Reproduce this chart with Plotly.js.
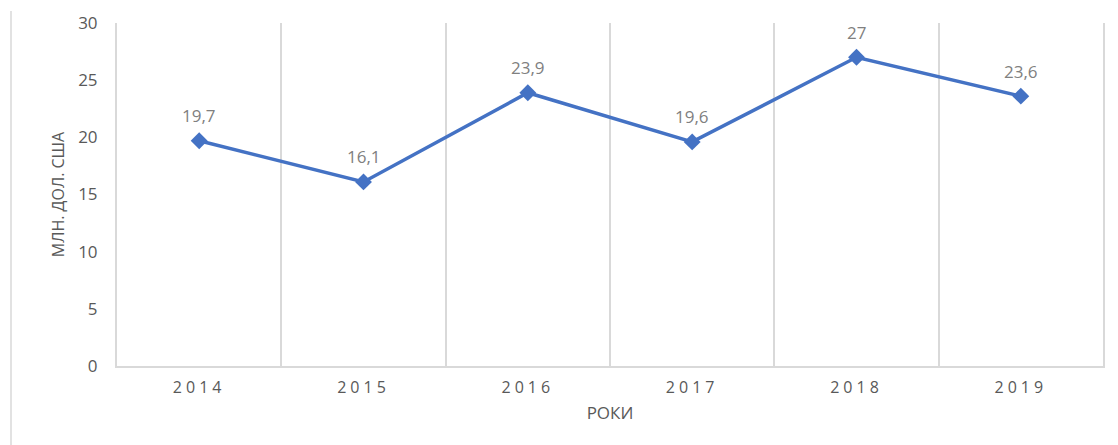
<!DOCTYPE html>
<html>
<head>
<meta charset="utf-8">
<script src="https://cdn.plot.ly/plotly-3.0.1.min.js"></script>
<style>
html,body{margin:0;padding:0;background:#fff;}
#chart{width:1118px;height:445px;}
.xtick text{letter-spacing:4px;}
</style>
</head>
<body>
<div id="chart"></div>
<script>
var years = ["2014", "2015", "2016", "2017", "2018", "2019"];
var values = [19.7, 16.1, 23.9, 19.6, 27, 23.6];
var yTicks = [0, 5, 10, 15, 20, 25, 30];
var yTitle = "МЛН. ДОЛ. США";
var xTitle = "РОКИ";

var fam = "Open Sans, Noto Sans, sans-serif";
var labels = values.map(function (v) { return String(v).replace(".", ","); });

var trace = {
  x: years,
  y: values,
  type: "scatter",
  mode: "lines+markers",
  line: {color: "#4472C4", width: 3.5},
  marker: {symbol: "diamond", size: 13, color: "#4472C4"},
  hoverinfo: "skip",
  cliponaxis: false
};

var annotations = [];
for (var i = 0; i < years.length; i++) {
  annotations.push({
    x: i, y: values[i], xref: "x", yref: "y",
    text: labels[i],
    showarrow: false, yshift: 25,
    xanchor: "center", yanchor: "middle",
    font: {family: fam, size: 17, color: "#808080"}
  });
}

var layout = {
  width: 1118, height: 445,
  margin: {l: 117, r: 15, t: 23, b: 79},
  paper_bgcolor: "#fff", plot_bgcolor: "#fff",
  showlegend: false,
  xaxis: {
    type: "category",
    tickson: "boundaries",
    showgrid: true, gridcolor: "#d9d9d9", gridwidth: 2,
    showline: true, linecolor: "#d9d9d9", linewidth: 2,
    ticks: "", ticklabelstandoff: 6,
    tickfont: {family: fam, size: 16, color: "#595959"},
    title: {text: xTitle, font: {family: fam, size: 17, color: "#595959"}, standoff: 10},
    range: [-0.5, 5.5],
    fixedrange: true
  },
  yaxis: {
    range: [0, 30],
    tickvals: yTicks,
    showgrid: false, zeroline: false,
    showline: true, linecolor: "#d9d9d9", linewidth: 2, mirror: true,
    ticks: "", ticklabelstandoff: 14,
    tickfont: {family: fam, size: 17, color: "#595959"},
    title: {text: yTitle, font: {family: fam, size: 16, color: "#595959"}, standoff: 10},
    fixedrange: true
  },
  annotations: annotations,
  shapes: [{
    type: "line", xref: "paper", yref: "paper",
    x0: -0.1075, x1: -0.1075, y0: -0.24, y1: 1.035,
    line: {color: "#d9d9d9", width: 1.5}
  }]
};

Plotly.newPlot("chart", [trace], layout, {displayModeBar: false});
</script>
</body>
</html>
